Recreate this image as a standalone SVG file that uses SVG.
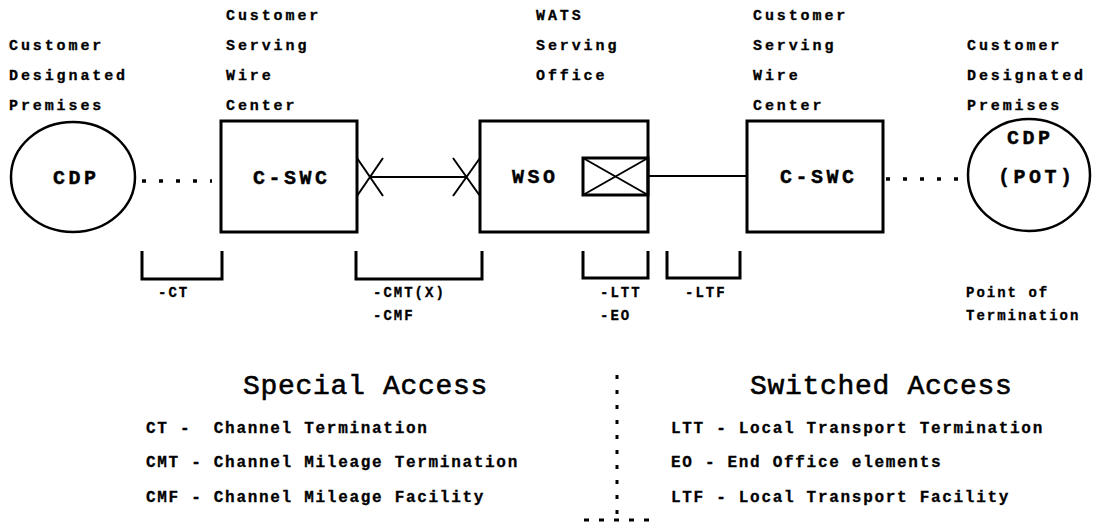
<svg xmlns="http://www.w3.org/2000/svg" width="1100" height="523" viewBox="0 0 1100 523">
<style>
.lbl{font-family:"Liberation Mono","Courier New",monospace;font-weight:bold;font-size:15px;letter-spacing:2.9px;fill:#000;stroke:#000;stroke-width:0.3}
.nd{font-family:"Liberation Mono","Courier New",monospace;font-weight:bold;font-size:20px;letter-spacing:3.5px;fill:#000;stroke:#000;stroke-width:0.4}
.sm{font-family:"Liberation Mono","Courier New",monospace;font-weight:bold;font-size:14px;letter-spacing:2px;fill:#000;stroke:#000;stroke-width:0.3}
.ttl{font-family:"Liberation Mono","Courier New",monospace;font-size:28px;letter-spacing:0.7px;fill:#000;stroke:#000;stroke-width:0.6}
.leg{font-family:"Liberation Mono","Courier New",monospace;font-weight:bold;font-size:16px;letter-spacing:1.7px;fill:#000;stroke:#000;stroke-width:0.3}
.box{fill:none;stroke:#000;stroke-width:3}
.circ{fill:none;stroke:#000;stroke-width:2.5}
.ln{fill:none;stroke:#000;stroke-width:2}
.dots{fill:none;stroke:#000;stroke-width:3.5;stroke-dasharray:4 13}
.brk{fill:none;stroke:#000;stroke-width:3}
</style>
<rect width="1100" height="523" fill="#fff"/>

<g id="labels-top">
<text class="lbl" x="9" y="50">Customer</text>
<text class="lbl" x="9" y="80">Designated</text>
<text class="lbl" x="9" y="110">Premises</text>
<text class="lbl" x="226" y="20">Customer</text>
<text class="lbl" x="226" y="50">Serving</text>
<text class="lbl" x="226" y="80">Wire</text>
<text class="lbl" x="226" y="110">Center</text>
<text class="lbl" x="536" y="20">WATS</text>
<text class="lbl" x="536" y="50">Serving</text>
<text class="lbl" x="536" y="80">Office</text>
<text class="lbl" x="753" y="20">Customer</text>
<text class="lbl" x="753" y="50">Serving</text>
<text class="lbl" x="753" y="80">Wire</text>
<text class="lbl" x="753" y="110">Center</text>
<text class="lbl" x="967" y="50">Customer</text>
<text class="lbl" x="967" y="80">Designated</text>
<text class="lbl" x="967" y="110">Premises</text>
</g>

<g id="node-cdp-left">
<ellipse class="circ" cx="73" cy="177" rx="62" ry="55"/>
<text class="nd" x="53" y="184">CDP</text>
</g>

<g id="node-cswc-left">
<rect class="box" x="221" y="121" width="136" height="111"/>
<text class="nd" x="253" y="184">C-SWC</text>
</g>

<g id="node-wso">
<rect class="box" x="480" y="121" width="168" height="111"/>
<text class="nd" x="512" y="183">WSO</text>
<rect class="box" x="583" y="158" width="65" height="37"/>
<path class="ln" d="M583,158 L648,195 M583,195 L648,158"/>
</g>

<g id="node-cswc-right">
<rect class="box" x="747" y="121" width="136" height="111"/>
<text class="nd" x="780" y="183">C-SWC</text>
</g>

<g id="node-cdp-right">
<ellipse class="circ" cx="1029" cy="175" rx="61" ry="56"/>
<text class="nd" x="1007" y="144">CDP</text>
<text class="nd" x="998" y="183">(POT)</text>
</g>

<g id="connectors">
<line class="dots" x1="142" y1="181" x2="212" y2="181"/>
<path class="ln" d="M357,158 L383,196 M357,196 L383,158"/>
<line class="ln" x1="370" y1="177" x2="467" y2="177"/>
<path class="ln" d="M453,158 L480,196 M453,196 L480,158"/>
<line class="ln" x1="648" y1="176" x2="747" y2="176"/>
<line class="dots" x1="886" y1="179" x2="966" y2="179"/>
</g>

<g id="brackets">
<path class="brk" d="M142,251 V279 H222 V251"/>
<path class="brk" d="M356,251 V279 H482 V251"/>
<path class="brk" d="M583,251 V278 H648 V251"/>
<path class="brk" d="M667,251 V278 H740 V251"/>
<text class="sm" x="158" y="297">-CT</text>
<text class="sm" x="373" y="297">-CMT(X)</text>
<text class="sm" x="373" y="320">-CMF</text>
<text class="sm" x="600" y="297">-LTT</text>
<text class="sm" x="600" y="320">-EO</text>
<text class="sm" x="685" y="297">-LTF</text>
<text class="sm" x="966" y="297">Point of</text>
<text class="sm" x="966" y="320">Termination</text>
</g>

<g id="legend">
<text class="ttl" x="243" y="394">Special Access</text>
<text class="ttl" x="750" y="394">Switched Access</text>
<text class="leg" x="146" y="433" xml:space="preserve">CT -  Channel Termination</text>
<text class="leg" x="146" y="467">CMT - Channel Mileage Termination</text>
<text class="leg" x="146" y="502">CMF - Channel Mileage Facility</text>
<text class="leg" x="671" y="433">LTT - Local Transport Termination</text>
<text class="leg" x="671" y="467">EO - End Office elements</text>
<text class="leg" x="671" y="502">LTF - Local Transport Facility</text>
<line class="dots" x1="617" y1="375" x2="617" y2="522" style="stroke-width:3;stroke-dasharray:4 11"/>
<line class="dots" x1="584" y1="520" x2="652" y2="520" style="stroke-width:3;stroke-dasharray:5 10"/>
</g>
</svg>
